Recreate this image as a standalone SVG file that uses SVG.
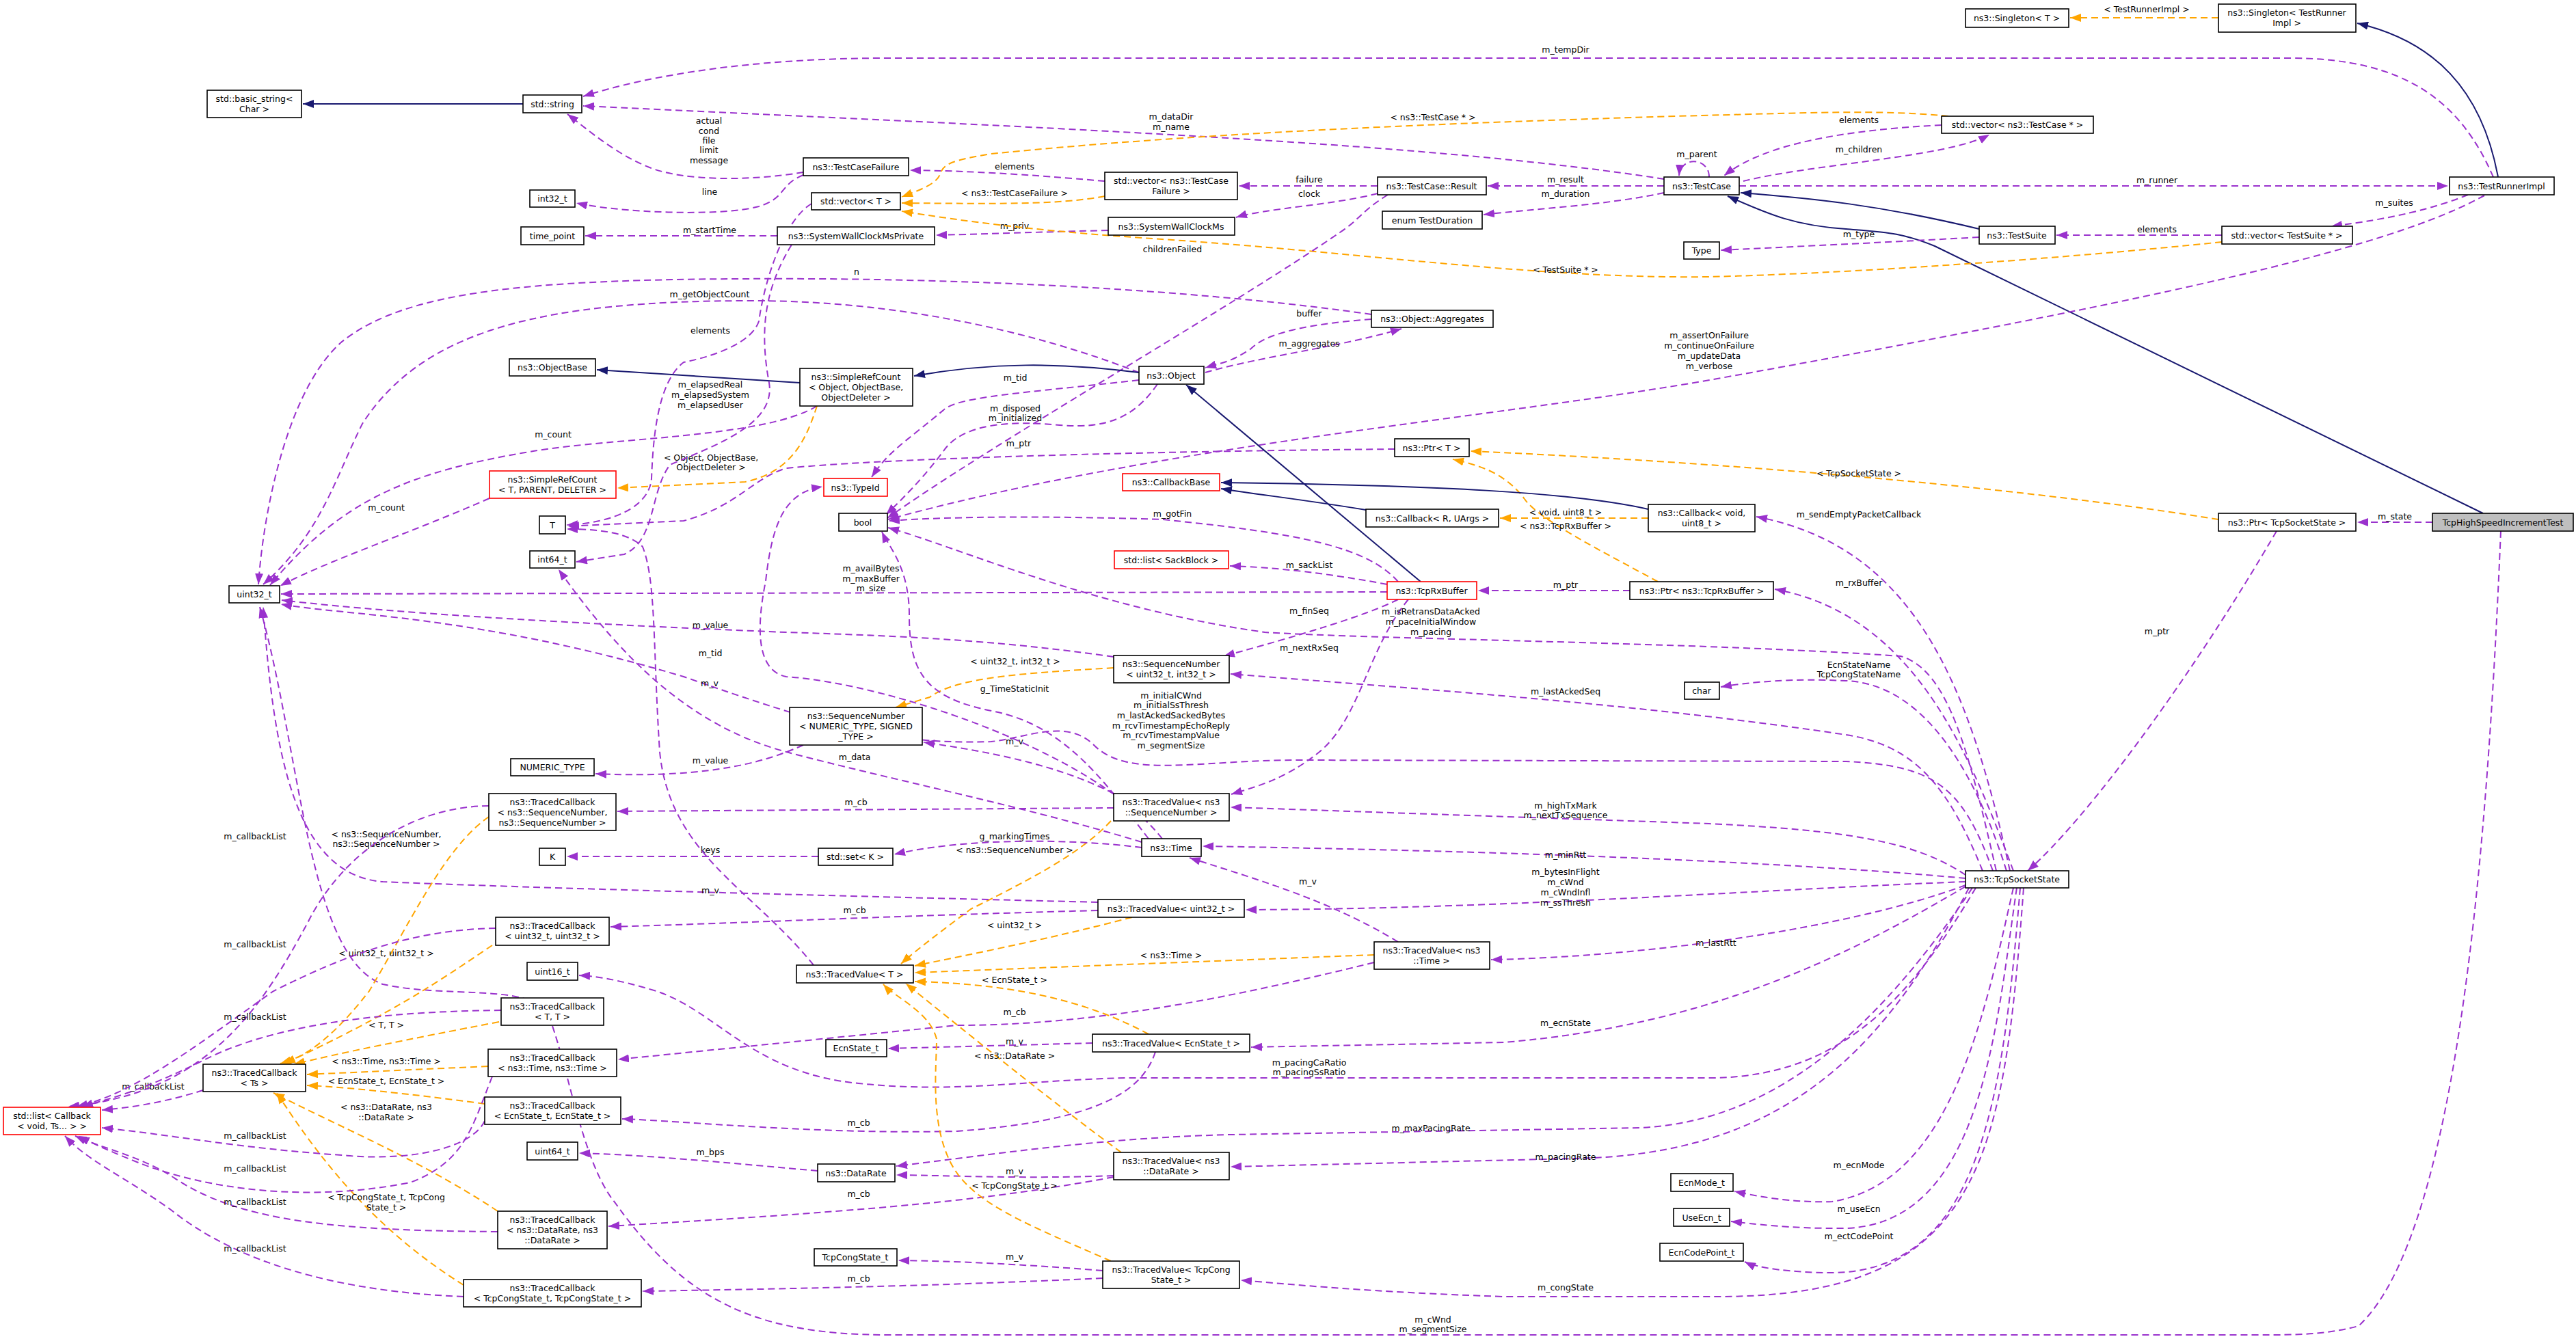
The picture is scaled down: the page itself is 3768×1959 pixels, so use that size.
<svg xmlns="http://www.w3.org/2000/svg" width="3768" height="1959" viewBox="0 0 3768 1959">
<style>
.n rect{fill:#fff;stroke:#000;stroke-width:1.6}
.n.r rect{stroke:#f00}
.n.g rect{fill:#bfbfbf}
text{font-family:"DejaVu Sans","Liberation Sans",sans-serif;font-size:12.5px;text-anchor:middle;fill:#000}
.e path{fill:none;stroke-width:2}
.p{stroke:#9a32cd;stroke-dasharray:10,6;marker-end:url(#mp)}
.o{stroke:#ffa500;stroke-dasharray:10,6;marker-end:url(#mo)}
.v{stroke:#191970;marker-end:url(#mn)}
</style>
<defs>
<marker id="mp" markerUnits="userSpaceOnUse" markerWidth="16" markerHeight="12" refX="16" refY="6" orient="auto"><path d="M0,0L16,6L0,12z" fill="#9a32cd"/></marker>
<marker id="mo" markerUnits="userSpaceOnUse" markerWidth="16" markerHeight="12" refX="16" refY="6" orient="auto"><path d="M0,0L16,6L0,12z" fill="#ffa500"/></marker>
<marker id="mn" markerUnits="userSpaceOnUse" markerWidth="16" markerHeight="12" refX="16" refY="6" orient="auto"><path d="M0,0L16,6L0,12z" fill="#191970"/></marker>
</defs>
<rect width="3768" height="1959" fill="#fff"/>
<g class="e" id="edges">
<path class="v" d="M765,152 L443,152"/>
<path class="o" d="M3245,26 L3028,26"/><text x="3140" y="18">&lt; TestRunnerImpl &gt;</text>
<path class="v" d="M3654,259 C3630,130 3560,60 3448,34"/>
<path class="p" d="M3647,259 C3600,150 3520,85 3350,85 L1300,85 C1100,85 950,110 853,141"/><text x="2290" y="77">m_tempDir</text>
<path class="p" d="M2434,262 C2100,210 1600,190 853,155"/><text x="1713" y="175">m_dataDir</text><text x="1713" y="190">m_name</text>
<path class="p" d="M1175,252 C1100,265 1000,265 950,245 C900,225 860,190 830,167"/><text x="1037" y="181">actual</text><text x="1037" y="196">cond</text><text x="1037" y="210">file</text><text x="1037" y="224">limit</text><text x="1037" y="239">message</text>
<path class="p" d="M1175,256 C1140,270 1150,290 1110,302 C1050,318 900,310 843,297"/><text x="1038" y="285">line</text>
<path class="p" d="M1616,265 C1500,255 1420,250 1331,249"/><text x="1484" y="248">elements</text>
<path class="o" d="M1616,287 C1550,300 1450,298 1319,297"/><text x="1484" y="287">&lt; ns3::TestCaseFailure &gt;</text>
<path class="p" d="M2015,272 L1812,272"/><text x="1915" y="267">failure</text>
<path class="p" d="M2015,283 C1950,300 1850,305 1808,318"/><text x="1915" y="288">clock</text>
<path class="p" d="M1621,337 C1500,340 1420,343 1369,344"/><text x="1484" y="335">m_priv</text>
<path class="p" d="M1137,345 L856,345"/><text x="1038" y="341">m_startTime</text>
<path class="p" d="M2434,272 L2176,272"/><text x="2290" y="267">m_result</text>
<path class="p" d="M2434,282 C2350,300 2250,305 2170,314"/><text x="2290" y="288">m_duration</text>
<path class="p" d="M2500,259 C2500,230 2458,228 2456,257"/><text x="2482" y="230">m_parent</text>
<path class="p" d="M2840,183 C2700,190 2580,210 2522,257"/><text x="2719" y="180">elements</text>
<path class="p" d="M2550,265 C2650,240 2850,230 2910,197"/><text x="2719" y="223">m_children</text>
<path class="o" d="M2850,170 C2750,160 2650,165 2450,170 C2200,178 1800,190 1450,225 C1390,235 1380,240 1375,255 C1370,270 1340,280 1319,288"/><text x="2096" y="176">&lt; ns3::TestCase * &gt;</text>
<path class="p" d="M2544,272 L3581,272"/><text x="3155" y="268">m_runner</text>
<path class="p" d="M3610,285 C3560,305 3500,320 3410,331"/><text x="3502" y="301">m_suites</text>
<path class="p" d="M3250,344 L3008,344"/><text x="3155" y="340">elements</text>
<path class="v" d="M2895,335 C2750,300 2650,290 2546,282"/>
<path class="v" d="M3632,751 L2830,360 C2780,340 2760,340 2700,335 C2620,330 2580,310 2527,287"/>
<path class="p" d="M2895,347 C2750,355 2600,362 2517,366"/><text x="2719" y="347">m_type</text>
<path class="o" d="M3250,354 C3000,380 2700,400 2500,405 C2250,408 2000,370 1700,350 C1550,340 1450,330 1319,309"/><text x="2290" y="399">&lt; TestSuite * &gt;</text>
<path class="p" d="M2030,285 C1990,310 1990,320 1960,340 C1800,450 1450,650 1298,758"/><text x="1715" y="369">childrenFailed</text>
<path class="p" d="M3634,286 C3500,360 3200,430 2512,554 C2200,610 1700,650 1299,760"/><text x="2500" y="495">m_assertOnFailure</text><text x="2500" y="510">m_continueOnFailure</text><text x="2500" y="525">m_updateData</text><text x="2500" y="540">m_verbose</text>
<path class="p" d="M2006,460 C1800,430 1500,410 1200,408 C800,406 600,420 500,500 C420,570 385,750 378,855"/><text x="1253" y="402">n</text>
<path class="p" d="M1666,545 C1500,480 1300,440 1100,440 C800,440 620,480 530,620 C490,700 470,780 385,855"/><text x="1038" y="435">m_getObjectCount</text>
<path class="p" d="M1195,594 C1120,640 900,640 780,660 C600,690 500,730 395,856"/><text x="809" y="640">m_count</text>
<path class="p" d="M716,729 C600,780 480,820 410,857"/><text x="565" y="747">m_count</text>
<path class="v" d="M1170,560 L873,541"/>
<path class="v" d="M1666,545 C1550,530 1450,530 1337,550"/>
<path class="o" d="M1195,594 C1180,640 1160,690 1090,705 L903,714"/><text x="1040" y="674">&lt; Object, ObjectBase,</text><text x="1040" y="688">ObjectDeleter &gt;</text>
<path class="p" d="M1763,545 C1850,520 1950,510 2050,481"/><text x="1915" y="507">m_aggregates</text>
<path class="p" d="M2006,467 C1900,475 1850,490 1830,510 C1800,530 1790,530 1763,538"/><text x="1915" y="463">buffer</text>
<path class="p" d="M1666,556 C1500,575 1400,580 1380,600 C1320,650 1300,660 1275,698"/><text x="1485" y="557">m_tid</text>
<path class="p" d="M1693,562 C1660,610 1620,628 1550,622 C1450,612 1400,630 1380,660 C1350,700 1320,730 1296,753"/><text x="1485" y="602">m_disposed</text><text x="1485" y="616">m_initialized</text>
<path class="p" d="M2040,657 C1700,660 1300,670 1150,685 C1100,700 1080,740 1000,762 L831,770"/><text x="1490" y="653">m_ptr</text>
<path class="o" d="M3245,760 C3000,720 2600,680 2151,660"/><text x="2719" y="697">&lt; TcpSocketState &gt;</text>
<path class="o" d="M2425,851 C2350,810 2250,760 2230,730 C2200,690 2160,680 2125,672"/><text x="2290" y="774">&lt; ns3::TcpRxBuffer &gt;</text>
<path class="o" d="M2411,758 L2194,758"/><text x="2290" y="754">&lt; void, uint8_t &gt;</text>
<path class="v" d="M2411,745 C2300,720 2100,710 1786,706"/>
<path class="v" d="M1998,746 C1900,730 1850,725 1786,715"/>
<path class="v" d="M2078,851 L1735,563"/>
<path class="p" d="M2045,851 C2000,800 1900,780 1700,760 C1550,755 1400,755 1300,762"/><text x="1715" y="756">m_gotFin</text>
<path class="p" d="M2029,855 C1950,840 1870,830 1799,828"/><text x="1915" y="831">m_sackList</text>
<path class="p" d="M2029,866 L411,869"/><text x="1274" y="836">m_availBytes</text><text x="1274" y="851">m_maxBuffer</text><text x="1274" y="865">m_size</text>
<path class="p" d="M2045,877 C2000,900 1900,930 1790,960"/><text x="1915" y="898">m_finSeq</text>
<path class="p" d="M2060,877 C2000,950 1990,1050 1930,1100 C1880,1140 1840,1150 1801,1162"/><text x="1915" y="952">m_nextRxSeq</text>
<path class="p" d="M2384,864 L2162,864"/><text x="2290" y="860">m_ptr</text>
<path class="p" d="M2945,1274 C2880,1100 2800,900 2596,862"/><text x="2719" y="857">m_rxBuffer</text>
<path class="p" d="M2940,1274 C2880,1000 2800,800 2569,756"/><text x="2719" y="757">m_sendEmptyPacketCallback</text>
<path class="p" d="M3330,777 C3200,1000 3050,1200 2966,1274"/><text x="3155" y="928">m_ptr</text>
<path class="p" d="M3558,764 L3448,764"/><text x="3503" y="760">m_state</text>
<path class="p" d="M3658,777 C3640,1200 3600,1800 3450,1940 C3400,1953 3360,1953 3300,1953 L1300,1953 C1100,1953 1000,1900 900,1760 C850,1700 830,1550 800,1480 C770,1440 650,1460 560,1440 C450,1400 440,1100 380,888"/><text x="2096" y="1935">m_cWnd</text><text x="2096" y="1949">m_segmentSize</text>
<path class="p" d="M2900,1274 C2850,1150 2800,1090 2700,1075 C2400,1030 2100,1010 1800,986"/><text x="2290" y="1016">m_lastAckedSeq</text>
<path class="p" d="M2935,1274 C2880,1100 2800,1000 2700,996 C2620,992 2560,998 2517,1005"/><text x="2719" y="977">EcnStateName</text><text x="2719" y="991">TcpCongStateName</text>
<path class="p" d="M2920,1274 C2880,1100 2850,980 2780,960 C2500,940 2000,935 1850,925 C1600,890 1400,800 1299,772"/><text x="2093" y="899">m_isRetransDataAcked</text><text x="2093" y="914">m_paceInitialWindow</text><text x="2093" y="929">m_pacing</text>
<path class="p" d="M2915,1274 C2870,1150 2830,1120 2700,1114 L1900,1112 C1750,1112 1650,1140 1600,1090 C1560,1050 1500,1080 1450,1085 C1300,1090 1200,1060 1000,990 C700,900 500,900 411,884"/><text x="1713" y="1022">m_initialCWnd</text><text x="1713" y="1036">m_initialSsThresh</text><text x="1713" y="1051">m_lastAckedSackedBytes</text><text x="1713" y="1066">m_rcvTimestampEchoReply</text><text x="1713" y="1080">m_rcvTimestampValue</text><text x="1713" y="1095">m_segmentSize</text>
<path class="p" d="M1629,961 C1450,935 1300,930 1150,925 C900,915 600,900 412,878"/><text x="1039" y="919">m_value</text>
<path class="o" d="M1629,977 C1500,985 1400,990 1360,1020 L1310,1035"/><text x="1485" y="972">&lt; uint32_t, int32_t &gt;</text>
<path class="p" d="M1175,1090 C1130,1110 1050,1140 871,1132"/><text x="1039" y="1117">m_value</text>
<path class="p" d="M1629,1161 C1550,1120 1450,1100 1351,1086"/><text x="1484" y="1089">m_v</text>
<path class="p" d="M1629,1182 L903,1187"/><text x="1252" y="1178">m_cb</text>
<path class="o" d="M1625,1201 C1580,1250 1500,1290 1420,1330 C1380,1360 1340,1390 1318,1410"/><text x="1484" y="1248">&lt; ns3::SequenceNumber &gt;</text>
<path class="p" d="M2875,1280 C2800,1230 2700,1215 2500,1205 L1800,1181"/><text x="2290" y="1183">m_highTxMark</text><text x="2290" y="1197">m_nextTxSequence</text>
<path class="p" d="M1197,1253 L829,1253"/><text x="1039" y="1248">keys</text>
<path class="p" d="M1670,1240 C1550,1225 1400,1228 1308,1250"/><text x="1484" y="1228">g_markingTimes</text>
<path class="p" d="M1670,1232 C1500,1180 1300,1140 1150,1100 C1000,1060 900,950 817,833"/><text x="1250" y="1112">m_data</text>
<path class="p" d="M1680,1227 C1620,1150 1560,1060 1450,1040 C1350,1020 1330,980 1330,900 C1330,830 1300,800 1290,778"/><text x="1484" y="1012">g_TimeStaticInit</text>
<path class="p" d="M1700,1227 C1600,1100 1300,1000 1150,990 C1100,980 1110,900 1120,850 C1130,760 1150,720 1203,712"/><text x="1039" y="960">m_tid</text>
<path class="p" d="M1187,298 C1150,320 1120,400 1110,470 C1100,500 1050,520 1000,530 C960,560 955,650 953,700 C950,740 900,765 829,768"/><text x="1039" y="488">elements</text>
<path class="p" d="M1158,358 C1120,420 1110,480 1125,560 C1135,620 1050,650 980,680 C950,720 960,790 913,811 L843,822"/><text x="1039" y="567">m_elapsedReal</text><text x="1039" y="582">m_elapsedSystem</text><text x="1039" y="597">m_elapsedUser</text>
<path class="p" d="M1190,1412 C1100,1300 980,1250 965,1100 C955,950 960,850 940,800 C920,780 880,774 829,774"/><text x="1038" y="1004">m_v</text>
<path class="p" d="M2875,1285 C2600,1260 2200,1245 1759,1238"/><text x="2290" y="1255">m_minRtt</text>
<path class="p" d="M2875,1290 C2600,1300 2200,1330 1822,1331"/><text x="2290" y="1280">m_bytesInFlight</text><text x="2290" y="1295">m_cWnd</text><text x="2290" y="1310">m_cWndInfl</text><text x="2290" y="1325">m_ssThresh</text>
<path class="p" d="M1606,1320 C1200,1310 800,1300 560,1290 C430,1280 400,1100 385,888"/><text x="1039" y="1307">m_v</text>
<path class="p" d="M1606,1332 C1300,1340 1100,1350 893,1356"/><text x="1250" y="1336">m_cb</text>
<path class="o" d="M1656,1342 C1550,1370 1450,1390 1338,1413"/><text x="1484" y="1358">&lt; uint32_t &gt;</text>
<path class="p" d="M2875,1295 C2700,1360 2400,1400 2181,1404"/><text x="2510" y="1384">m_lastRtt</text>
<path class="p" d="M2045,1378 C1950,1320 1850,1290 1740,1255"/><text x="1913" y="1294">m_v</text>
<path class="o" d="M2010,1397 L1338,1423"/><text x="1713" y="1402">&lt; ns3::Time &gt;</text>
<path class="p" d="M2010,1408 C1800,1460 1600,1500 1400,1500 L904,1550"/><text x="1484" y="1485">m_cb</text>
<path class="p" d="M1598,1526 L1299,1534"/><text x="1484" y="1528">m_v</text>
<path class="o" d="M1680,1513 C1600,1470 1500,1440 1338,1436"/><text x="1484" y="1438">&lt; EcnState_t &gt;</text>
<path class="p" d="M1690,1539 C1670,1600 1600,1640 1400,1655 C1200,1660 1000,1640 910,1637"/><text x="1256" y="1647">m_cb</text>
<path class="p" d="M2875,1297 C2700,1400 2500,1500 2200,1525 L1830,1532"/><text x="2290" y="1501">m_ecnState</text>
<path class="p" d="M2890,1299 C2800,1450 2700,1577 2500,1577 L1650,1577 C1500,1580 1400,1600 1256,1585 C1100,1570 1050,1480 960,1450 C900,1432 870,1428 847,1427"/><text x="1915" y="1559">m_pacingCaRatio</text><text x="1915" y="1573">m_pacingSsRatio</text>
<path class="p" d="M2885,1299 C2750,1500 2600,1640 2400,1650 L1800,1660 C1600,1665 1450,1690 1311,1706"/><text x="2093" y="1655">m_maxPacingRate</text>
<path class="p" d="M2880,1299 C2750,1550 2600,1690 2300,1695 L1800,1707"/><text x="2290" y="1697">m_pacingRate</text>
<path class="p" d="M1629,1720 C1500,1725 1400,1720 1311,1719"/><text x="1484" y="1718">m_v</text>
<path class="o" d="M1640,1686 C1550,1620 1450,1540 1325,1439"/><text x="1484" y="1549">&lt; ns3::DataRate &gt;</text>
<path class="p" d="M1629,1722 C1450,1755 1300,1770 890,1794"/><text x="1256" y="1751">m_cb</text>
<path class="p" d="M1196,1713 C1050,1700 950,1690 847,1687"/><text x="1039" y="1690">m_bps</text>
<path class="p" d="M2945,1299 C2900,1500 2850,1730 2680,1758 C2620,1760 2570,1750 2537,1743"/><text x="2719" y="1709">m_ecnMode</text>
<path class="p" d="M2950,1299 C2920,1500 2900,1790 2700,1797 C2620,1798 2560,1790 2532,1787"/><text x="2719" y="1773">m_useEcn</text>
<path class="p" d="M2955,1299 C2930,1600 2900,1860 2680,1862 C2620,1862 2570,1855 2552,1846"/><text x="2719" y="1813">m_ectCodePoint</text>
<path class="p" d="M2960,1299 C2930,1700 2900,1897 2512,1897 L2200,1897 C2000,1890 1900,1880 1815,1873"/><text x="2290" y="1888">m_congState</text>
<path class="p" d="M1613,1859 C1500,1850 1400,1845 1314,1844"/><text x="1484" y="1843">m_v</text>
<path class="o" d="M1625,1845 C1500,1790 1420,1760 1390,1700 C1360,1640 1370,1560 1370,1520 C1360,1480 1310,1460 1292,1440"/><text x="1484" y="1739">&lt; TcpCongState_t &gt;</text>
<path class="p" d="M1613,1870 C1400,1880 1200,1885 940,1889"/><text x="1256" y="1875">m_cb</text>
<path class="o" d="M715,1195 C650,1240 600,1350 540,1450 C470,1540 430,1550 410,1556"/><text x="565" y="1225">&lt; ns3::SequenceNumber,</text><text x="565" y="1239">ns3::SequenceNumber &gt;</text>
<path class="o" d="M720,1383 C650,1430 580,1480 416,1556"/><text x="565" y="1399">&lt; uint32_t, uint32_t &gt;</text>
<path class="o" d="M730,1495 C600,1520 500,1540 430,1557"/><text x="565" y="1504">&lt; T, T &gt;</text>
<path class="o" d="M714,1560 L449,1572"/><text x="565" y="1557">&lt; ns3::Time, ns3::Time &gt;</text>
<path class="o" d="M709,1615 C600,1600 500,1590 449,1588"/><text x="565" y="1586">&lt; EcnState_t, EcnState_t &gt;</text>
<path class="o" d="M728,1772 C620,1700 500,1650 400,1599"/><text x="565" y="1624">&lt; ns3::DataRate, ns3</text><text x="565" y="1639">::DataRate &gt;</text>
<path class="o" d="M678,1880 C550,1800 470,1700 405,1599"/><text x="565" y="1756">&lt; TcpCongState_t, TcpCong</text><text x="565" y="1771">State_t &gt;</text>
<path class="p" d="M297,1595 C250,1610 200,1620 149,1624"/><text x="224" y="1594">m_callbackList</text>
<path class="p" d="M715,1179 C600,1180 500,1250 450,1350 C380,1480 300,1600 100,1619"/><text x="373" y="1228">m_callbackList</text>
<path class="p" d="M725,1358 C600,1360 500,1400 400,1450 C300,1520 200,1600 112,1619"/><text x="373" y="1386">m_callbackList</text>
<path class="p" d="M733,1478 C550,1480 400,1500 300,1550 C200,1600 150,1610 120,1619"/><text x="373" y="1492">m_callbackList</text>
<path class="p" d="M709,1640 C690,1680 600,1700 500,1690 C350,1680 250,1660 149,1650"/><text x="373" y="1666">m_callbackList</text>
<path class="p" d="M720,1575 C690,1650 680,1700 600,1730 C450,1760 300,1740 200,1700 C150,1680 130,1670 115,1662"/><text x="373" y="1714">m_callbackList</text>
<path class="p" d="M728,1802 C500,1800 350,1790 250,1720 C200,1690 150,1680 110,1662"/><text x="373" y="1763">m_callbackList</text>
<path class="p" d="M678,1897 C500,1890 350,1850 250,1770 C180,1720 130,1700 95,1662"/><text x="373" y="1831">m_callbackList</text>
</g>
<g id="singT" class="n"><rect x="2875" y="13" width="151" height="27"/><text x="2950" y="31">ns3::Singleton&lt; T &gt;</text></g>
<g id="singTR" class="n"><rect x="3245" y="6" width="201" height="41"/><text x="3345" y="23">ns3::Singleton&lt; TestRunner</text><text x="3345" y="38">Impl &gt;</text></g>
<g id="bstr" class="n"><rect x="303" y="132" width="138" height="40"/><text x="372" y="149">std::basic_string&lt;</text><text x="372" y="164">Char &gt;</text></g>
<g id="str" class="n"><rect x="765" y="139" width="86" height="26"/><text x="808" y="157">std::string</text></g>
<g id="tcf" class="n"><rect x="1175" y="231" width="154" height="26"/><text x="1252" y="249">ns3::TestCaseFailure</text></g>
<g id="int32" class="n"><rect x="775" y="278" width="66" height="25"/><text x="808" y="295">int32_t</text></g>
<g id="vecT" class="n"><rect x="1187" y="282" width="130" height="25"/><text x="1252" y="299">std::vector&lt; T &gt;</text></g>
<g id="tp" class="n"><rect x="762" y="332" width="92" height="26"/><text x="808" y="350">time_point</text></g>
<g id="swcp" class="n"><rect x="1137" y="332" width="230" height="26"/><text x="1252" y="350">ns3::SystemWallClockMsPrivate</text></g>
<g id="obase" class="n"><rect x="745" y="525" width="126" height="25"/><text x="808" y="542">ns3::ObjectBase</text></g>
<g id="src" class="n"><rect x="1170" y="539" width="165" height="55"/><text x="1252" y="556">ns3::SimpleRefCount</text><text x="1252" y="571">&lt; Object, ObjectBase,</text><text x="1252" y="586">ObjectDeleter &gt;</text></g>
<g id="vtcf" class="n"><rect x="1616" y="252" width="194" height="40"/><text x="1713" y="269">std::vector&lt; ns3::TestCase</text><text x="1713" y="284">Failure &gt;</text></g>
<g id="res" class="n"><rect x="2015" y="259" width="159" height="26"/><text x="2094" y="277">ns3::TestCase::Result</text></g>
<g id="swc" class="n"><rect x="1621" y="318" width="185" height="26"/><text x="1713" y="336">ns3::SystemWallClockMs</text></g>
<g id="etd" class="n"><rect x="2022" y="309" width="146" height="26"/><text x="2095" y="327">enum TestDuration</text></g>
<g id="type" class="n"><rect x="2463" y="354" width="52" height="25"/><text x="2489" y="371">Type</text></g>
<g id="agg" class="n"><rect x="2006" y="454" width="178" height="25"/><text x="2095" y="471">ns3::Object::Aggregates</text></g>
<g id="obj" class="n"><rect x="1666" y="536" width="95" height="26"/><text x="1713" y="554">ns3::Object</text></g>
<g id="tc" class="n"><rect x="2434" y="259" width="110" height="26"/><text x="2489" y="277">ns3::TestCase</text></g>
<g id="vtc" class="n"><rect x="2840" y="170" width="222" height="25"/><text x="2951" y="187">std::vector&lt; ns3::TestCase * &gt;</text></g>
<g id="tri" class="n"><rect x="3583" y="259" width="153" height="26"/><text x="3659" y="277">ns3::TestRunnerImpl</text></g>
<g id="ts" class="n"><rect x="2895" y="331" width="111" height="26"/><text x="2950" y="349">ns3::TestSuite</text></g>
<g id="vts" class="n"><rect x="3250" y="331" width="191" height="26"/><text x="3345" y="349">std::vector&lt; TestSuite * &gt;</text></g>
<g id="srcT" class="n r"><rect x="716" y="689" width="185" height="40"/><text x="808" y="706">ns3::SimpleRefCount</text><text x="808" y="721">&lt; T, PARENT, DELETER &gt;</text></g>
<g id="T" class="n"><rect x="789" y="755" width="38" height="26"/><text x="808" y="773">T</text></g>
<g id="i64" class="n"><rect x="775" y="806" width="66" height="25"/><text x="808" y="823">int64_t</text></g>
<g id="u32" class="n"><rect x="335" y="857" width="74" height="25"/><text x="372" y="874">uint32_t</text></g>
<g id="snN" class="n"><rect x="1155" y="1035" width="194" height="55"/><text x="1252" y="1052">ns3::SequenceNumber</text><text x="1252" y="1067">&lt; NUMERIC_TYPE, SIGNED</text><text x="1252" y="1082">_TYPE &gt;</text></g>
<g id="numt" class="n"><rect x="747" y="1110" width="122" height="25"/><text x="808" y="1127">NUMERIC_TYPE</text></g>
<g id="tcbSN" class="n"><rect x="715" y="1161" width="186" height="54"/><text x="808" y="1178">ns3::TracedCallback</text><text x="808" y="1193">&lt; ns3::SequenceNumber,</text><text x="808" y="1208">ns3::SequenceNumber &gt;</text></g>
<g id="K" class="n"><rect x="789" y="1241" width="38" height="25"/><text x="808" y="1258">K</text></g>
<g id="set" class="n"><rect x="1197" y="1241" width="109" height="25"/><text x="1251" y="1258">std::set&lt; K &gt;</text></g>
<g id="tid" class="n r"><rect x="1205" y="700" width="93" height="26"/><text x="1251" y="718">ns3::TypeId</text></g>
<g id="bool" class="n"><rect x="1227" y="751" width="71" height="26"/><text x="1262" y="769">bool</text></g>
<g id="ptrT" class="n"><rect x="2040" y="642" width="109" height="26"/><text x="2094" y="660">ns3::Ptr&lt; T &gt;</text></g>
<g id="cbb" class="n r"><rect x="1642" y="693" width="142" height="25"/><text x="1713" y="710">ns3::CallbackBase</text></g>
<g id="cbR" class="n"><rect x="1998" y="745" width="194" height="26"/><text x="2095" y="763">ns3::Callback&lt; R, UArgs &gt;</text></g>
<g id="cbV" class="n"><rect x="2411" y="738" width="156" height="40"/><text x="2489" y="755">ns3::Callback&lt; void,</text><text x="2489" y="770">uint8_t &gt;</text></g>
<g id="sack" class="n r"><rect x="1630" y="806" width="167" height="26"/><text x="1713" y="824">std::list&lt; SackBlock &gt;</text></g>
<g id="rx" class="n r"><rect x="2029" y="851" width="131" height="26"/><text x="2094" y="869">ns3::TcpRxBuffer</text></g>
<g id="prx" class="n"><rect x="2384" y="851" width="210" height="26"/><text x="2489" y="869">ns3::Ptr&lt; ns3::TcpRxBuffer &gt;</text></g>
<g id="sn32" class="n"><rect x="1629" y="959" width="169" height="40"/><text x="1713" y="976">ns3::SequenceNumber</text><text x="1713" y="991">&lt; uint32_t, int32_t &gt;</text></g>
<g id="char" class="n"><rect x="2464" y="998" width="51" height="25"/><text x="2489" y="1015">char</text></g>
<g id="tvSN" class="n"><rect x="1629" y="1161" width="169" height="40"/><text x="1713" y="1178">ns3::TracedValue&lt; ns3</text><text x="1713" y="1193">::SequenceNumber &gt;</text></g>
<g id="time" class="n"><rect x="1670" y="1227" width="87" height="26"/><text x="1713" y="1245">ns3::Time</text></g>
<g id="pts" class="n"><rect x="3245" y="751" width="201" height="26"/><text x="3345" y="769">ns3::Ptr&lt; TcpSocketState &gt;</text></g>
<g id="test" class="n g"><rect x="3558" y="751" width="206" height="26"/><text x="3661" y="769">TcpHighSpeedIncrementTest</text></g>
<g id="tss" class="n"><rect x="2875" y="1274" width="151" height="25"/><text x="2950" y="1291">ns3::TcpSocketState</text></g>
<g id="tcb32" class="n"><rect x="725" y="1342" width="166" height="41"/><text x="808" y="1359">ns3::TracedCallback</text><text x="808" y="1374">&lt; uint32_t, uint32_t &gt;</text></g>
<g id="u16" class="n"><rect x="771" y="1408" width="74" height="26"/><text x="808" y="1426">uint16_t</text></g>
<g id="tv32" class="n"><rect x="1606" y="1316" width="214" height="26"/><text x="1713" y="1334">ns3::TracedValue&lt; uint32_t &gt;</text></g>
<g id="tcbTT" class="n"><rect x="733" y="1460" width="150" height="40"/><text x="808" y="1477">ns3::TracedCallback</text><text x="808" y="1492">&lt; T, T &gt;</text></g>
<g id="tcbTm" class="n"><rect x="714" y="1535" width="188" height="40"/><text x="808" y="1552">ns3::TracedCallback</text><text x="808" y="1567">&lt; ns3::Time, ns3::Time &gt;</text></g>
<g id="tcbTs" class="n"><rect x="297" y="1557" width="150" height="40"/><text x="372" y="1574">ns3::TracedCallback</text><text x="372" y="1589">&lt; Ts &gt;</text></g>
<g id="lst" class="n r"><rect x="5" y="1620" width="142" height="40"/><text x="76" y="1637">std::list&lt; Callback</text><text x="76" y="1652">&lt; void, Ts... &gt; &gt;</text></g>
<g id="tcbE" class="n"><rect x="709" y="1605" width="199" height="40"/><text x="808" y="1622">ns3::TracedCallback</text><text x="808" y="1637">&lt; EcnState_t, EcnState_t &gt;</text></g>
<g id="u64" class="n"><rect x="771" y="1671" width="74" height="26"/><text x="808" y="1689">uint64_t</text></g>
<g id="tcbDR" class="n"><rect x="728" y="1772" width="160" height="55"/><text x="808" y="1789">ns3::TracedCallback</text><text x="808" y="1804">&lt; ns3::DataRate, ns3</text><text x="808" y="1819">::DataRate &gt;</text></g>
<g id="tcbC" class="n"><rect x="678" y="1872" width="260" height="40"/><text x="808" y="1889">ns3::TracedCallback</text><text x="808" y="1904">&lt; TcpCongState_t, TcpCongState_t &gt;</text></g>
<g id="ecs" class="n"><rect x="1208" y="1521" width="89" height="25"/><text x="1252" y="1538">EcnState_t</text></g>
<g id="dr" class="n"><rect x="1196" y="1703" width="113" height="26"/><text x="1252" y="1721">ns3::DataRate</text></g>
<g id="tcs" class="n"><rect x="1191" y="1827" width="121" height="25"/><text x="1251" y="1844">TcpCongState_t</text></g>
<g id="tvTm" class="n"><rect x="2010" y="1378" width="169" height="40"/><text x="2094" y="1395">ns3::TracedValue&lt; ns3</text><text x="2094" y="1410">::Time &gt;</text></g>
<g id="tvT" class="n"><rect x="1165" y="1412" width="171" height="26"/><text x="1250" y="1430">ns3::TracedValue&lt; T &gt;</text></g>
<g id="tvE" class="n"><rect x="1598" y="1513" width="230" height="26"/><text x="1713" y="1531">ns3::TracedValue&lt; EcnState_t &gt;</text></g>
<g id="tvDR" class="n"><rect x="1629" y="1686" width="169" height="40"/><text x="1713" y="1703">ns3::TracedValue&lt; ns3</text><text x="1713" y="1718">::DataRate &gt;</text></g>
<g id="tvC" class="n"><rect x="1613" y="1845" width="200" height="40"/><text x="1713" y="1862">ns3::TracedValue&lt; TcpCong</text><text x="1713" y="1877">State_t &gt;</text></g>
<g id="ecm" class="n"><rect x="2444" y="1717" width="91" height="26"/><text x="2489" y="1735">EcnMode_t</text></g>
<g id="uecn" class="n"><rect x="2448" y="1768" width="82" height="26"/><text x="2489" y="1786">UseEcn_t</text></g>
<g id="ecp" class="n"><rect x="2428" y="1819" width="122" height="26"/><text x="2489" y="1837">EcnCodePoint_t</text></g>
</svg>
